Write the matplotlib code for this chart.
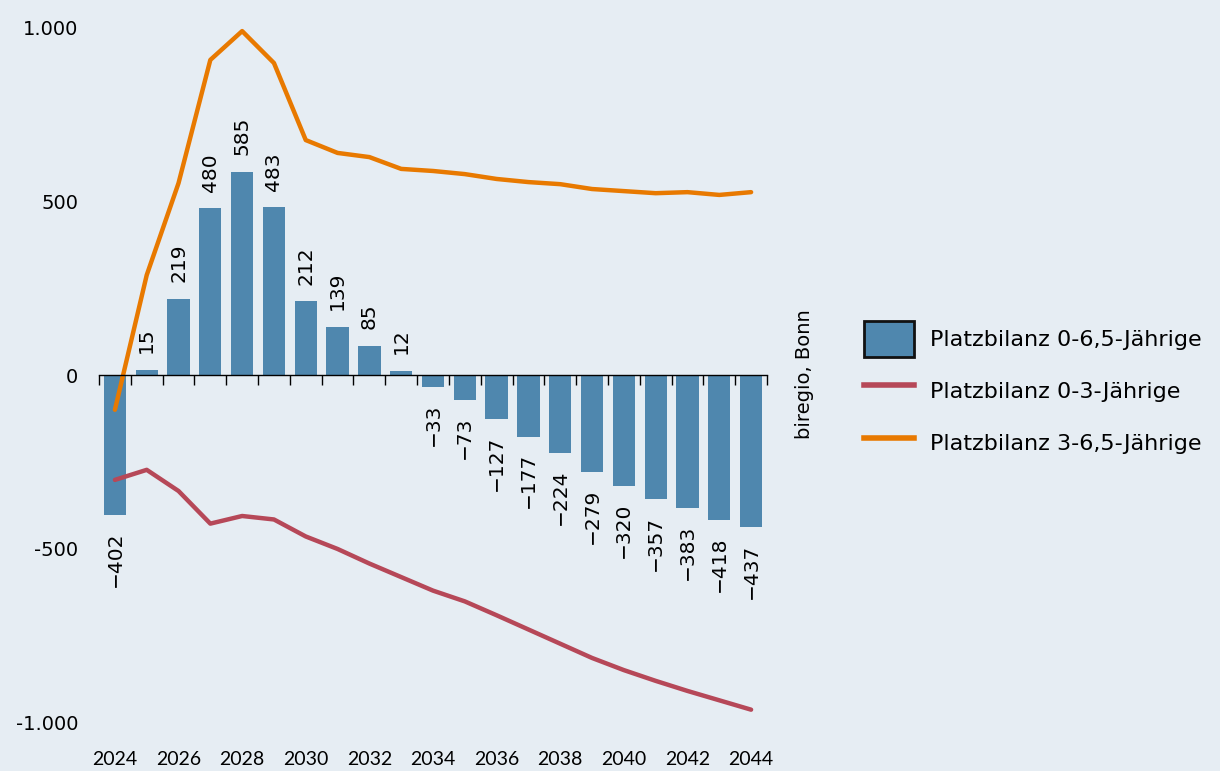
import matplotlib
matplotlib.use("Agg")
import matplotlib.pyplot as plt
from matplotlib.patches import Patch
from matplotlib.lines import Line2D
from matplotlib.ticker import FixedLocator, FuncFormatter

years = list(range(2024, 2045))
total = [-402, 15, 219, 480, 585, 483, 212, 139, 85, 12, -33, -73, -127,
         -177, -224, -279, -320, -357, -383, -418, -437]
age_3_65 = [-100, 288, 553, 908, 991, 899, 677, 640, 628, 594, 588, 579,
            565, 556, 550, 536, 530, 524, 527, 519, 527]
age_0_3 = [-302, -273, -334, -428, -406, -416, -465, -501, -543, -582, -621,
           -652, -692, -733, -774, -815, -850, -881, -910, -937, -964]
year_labels = list(range(2024, 2045, 2))
y_ticks = [-1000, -500, 0, 500, 1000]

legend_labels = ["Platzbilanz 0-6,5-Jährige", "Platzbilanz 0-3-Jährige",
                 "Platzbilanz 3-6,5-Jährige"]
source = "biregio, Bonn"

BG = "#e6edf3"
BAR = "#4f87ae"
RED = "#b64858"
ORANGE = "#e87900"

plt.rcParams["font.family"] = ["DejaVu Sans"]

fig = plt.figure(figsize=(12.2, 7.71), dpi=100, facecolor=BG)
ax = fig.add_axes([99 / 1220, 1 - 743 / 771, (767 - 99) / 1220, (743 - 24.5) / 771])
ax.set_facecolor(BG)

ax.bar(years, total, width=0.7, color=BAR, zorder=2)
ax.plot(years, age_0_3, color=RED, lw=3.2, solid_capstyle="round", zorder=3)
ax.plot(years, age_3_65, color=ORANGE, lw=3.2, solid_capstyle="round", zorder=3)

for x, v in zip(years, total):
    lbl = f"{v}".replace("-", "\u2212")
    if v >= 0:
        ax.annotate(lbl, (x, v), xytext=(0, 12), textcoords="offset points",
                    rotation=90, ha="center", va="bottom", fontsize=14.5, zorder=4)
    else:
        ax.annotate(lbl, (x, v), xytext=(0, -12), textcoords="offset points",
                    rotation=90, ha="center", va="top", fontsize=14.5, zorder=4)

ax.set_xlim(2023.5, 2044.5)
ax.set_ylim(-1060, 1010)

for s in ["top", "right", "left"]:
    ax.spines[s].set_visible(False)
ax.spines["bottom"].set_position(("data", 0))
ax.spines["bottom"].set_linewidth(1.0)
ax.spines["bottom"].set_zorder(5)

ax.xaxis.set_major_locator(FixedLocator([y - 0.5 for y in range(2024, 2046)]))
ax.tick_params(axis="x", direction="out", length=7, width=1.0, labelbottom=False)

ax.set_yticks(y_ticks)
ax.yaxis.set_major_formatter(FuncFormatter(lambda v, p: f"{int(v):,}".replace(",", ".")))
ax.tick_params(axis="y", length=0, pad=15, labelsize=14)

sec = ax.secondary_xaxis("bottom")
sec.set_xticks(year_labels)
sec.set_xticklabels([str(y) for y in year_labels], fontfamily="Lato", fontsize=14)
sec.spines["bottom"].set_visible(False)
sec.tick_params(length=0, pad=6)

handles = [Patch(facecolor=BAR, edgecolor="#111111", linewidth=2),
           Line2D([], [], color=RED, lw=4),
           Line2D([], [], color=ORANGE, lw=4)]
fig.legend(handles, legend_labels, loc="center left",
           bbox_to_anchor=(864 / 1220, 1 - 391 / 771), frameon=False,
           fontsize=16, handlelength=2.25, handleheight=2.12,
           labelspacing=0.72, handletextpad=0.72, borderpad=0, borderaxespad=0)

fig.text(805 / 1220, 1 - 374 / 771, source, rotation=90, ha="center",
         va="center", fontsize=14)

fig.savefig("out.png", dpi=100, facecolor=BG)
